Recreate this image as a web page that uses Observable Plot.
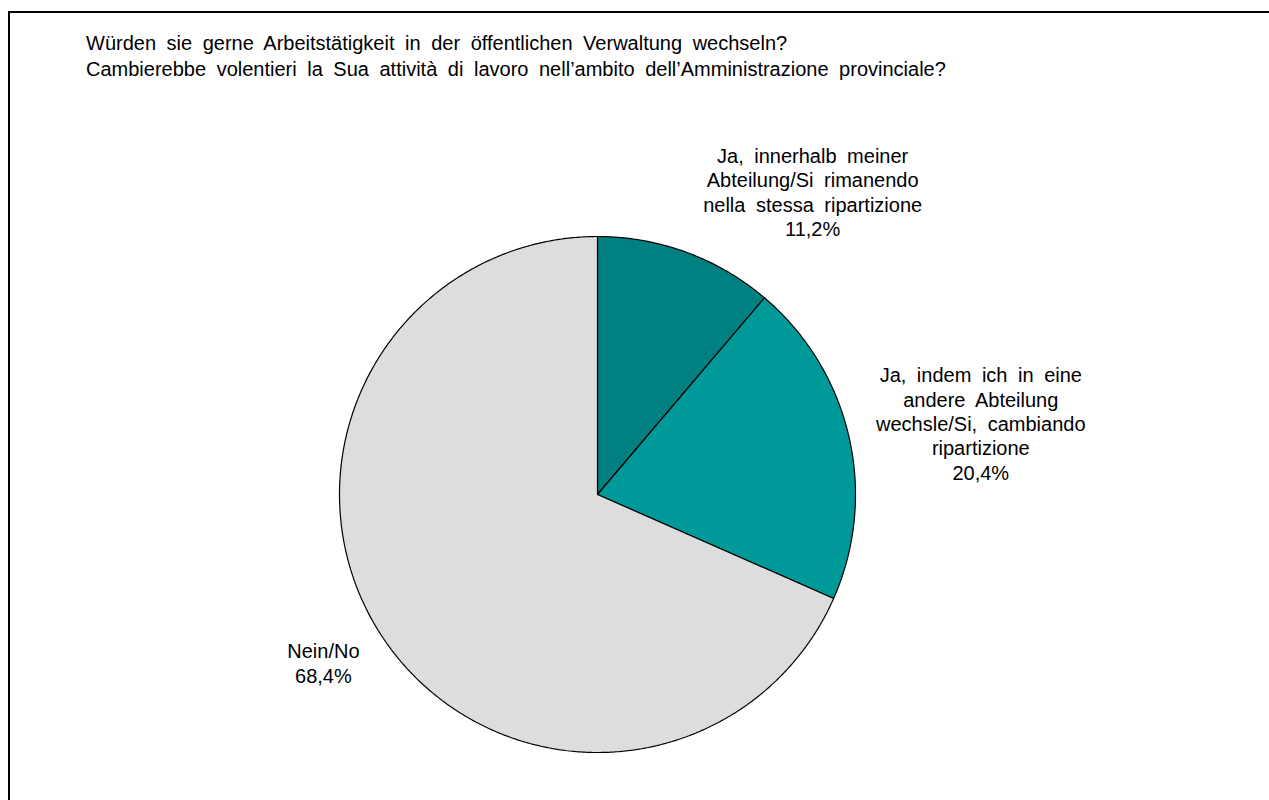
<!DOCTYPE html>
<html>
<head>
<meta charset="utf-8">
<script src="https://cdn.jsdelivr.net/npm/d3@7"></script>
<script src="https://cdn.jsdelivr.net/npm/@observablehq/plot@0.6"></script>
<style>
  html, body { margin: 0; padding: 0; background: #fff; overflow: hidden; }
  #wrap { position: relative; width: 1269px; height: 800px; overflow: hidden; font-family: "Liberation Sans", Arial, sans-serif; }
  #frame { position: absolute; left: 8px; top: 11px; width: 2000px; height: 2000px; border-left: 2px solid #000; border-top: 2px solid #000; }
  #title { position: absolute; left: 86px; top: 31px; font-size: 20px; line-height: 25.5px; color: #000; word-spacing: 5px; white-space: nowrap; }
  #chart { position: absolute; left: 0; top: 0; }
</style>
</head>
<body>
<div id="wrap">
  <div id="frame"></div>
  <div id="chart"></div>
  <div id="title"></div>
</div>
<script>
// ---- data ----
const titleLines = [
  "Würden sie gerne Arbeitstätigkeit in der öffentlichen Verwaltung wechseln?",
  "Cambierebbe volentieri la Sua attività di lavoro nell’ambito dell’Amministrazione provinciale?"
];
const categories = [
  "Ja, innerhalb meiner Abteilung/Si rimanendo nella stessa ripartizione",
  "Ja, indem ich in eine andere Abteilung wechsle/Si, cambiando ripartizione",
  "Nein/No"
];
const labelLines = [
  ["Ja, innerhalb meiner", "Abteilung/Si rimanendo", "nella stessa ripartizione"],
  ["Ja, indem ich in eine", "andere Abteilung", "wechsle/Si, cambiando", "ripartizione"],
  ["Nein/No"]
];
const values = [11.2, 20.4, 68.4];
const colors = ["#008080", "#009999", "#DDDDDD"];

// ---- build ----
document.getElementById("title").innerHTML = titleLines.join("<br>");

const arcs = d3.pie().sort(null).value(d => d.value)(
  categories.map((c, i) => ({cat: c, value: values[i], lines: labelLines[i]}))
);

const slicePts = [];
arcs.forEach(a => {
  const n = Math.max(2, Math.ceil((a.endAngle - a.startAngle) / (Math.PI / 360)));
  slicePts.push({cat: a.data.cat, x: 0, y: 0});
  for (let k = 0; k <= n; k++) {
    const t = a.startAngle + (a.endAngle - a.startAngle) * k / n;
    slicePts.push({cat: a.data.cat, x: Math.sin(t), y: Math.cos(t)});
  }
  slicePts.push({cat: a.data.cat, x: 0, y: 0});
});

const fmt = v => v.toFixed(1).replace(".", ",") + "%";
const labelData = arcs.map(a => {
  const m = (a.startAngle + a.endAngle) / 2;
  return {x: 1.25 * Math.sin(m), y: 1.25 * Math.cos(m), text: a.data.lines.concat([fmt(a.data.value)]).join("\n")};
});
const labelOffsets = [[104, 0], [69, 1], [-4, -8]];

const textOpts = {
  fontFamily: "Liberation Sans, Arial, sans-serif",
  fontSize: 20,
  lineHeight: 1.22,
  fill: "#000",
  textAnchor: "middle",
  lineAnchor: "middle"
};

const plot = Plot.plot({
  width: 1269,
  height: 800,
  margin: 0,
  style: {background: "transparent", wordSpacing: "5px"},
  x: {domain: [-1, 1], range: [339, 855], axis: null},
  y: {domain: [-1, 1], range: [752, 236], axis: null},
  color: {domain: categories, range: colors},
  marks: [
    Plot.line(slicePts, {x: "x", y: "y", z: "cat", fill: "cat", stroke: "#000", strokeWidth: 1.2, strokeLinejoin: "miter", curve: "linear"}),
    ...labelData.map((d, i) => Plot.text([d], {x: "x", y: "y", text: "text", dx: labelOffsets[i][0], dy: labelOffsets[i][1], ...textOpts}))
  ]
});
document.getElementById("chart").appendChild(plot);
</script>
</body>
</html>
